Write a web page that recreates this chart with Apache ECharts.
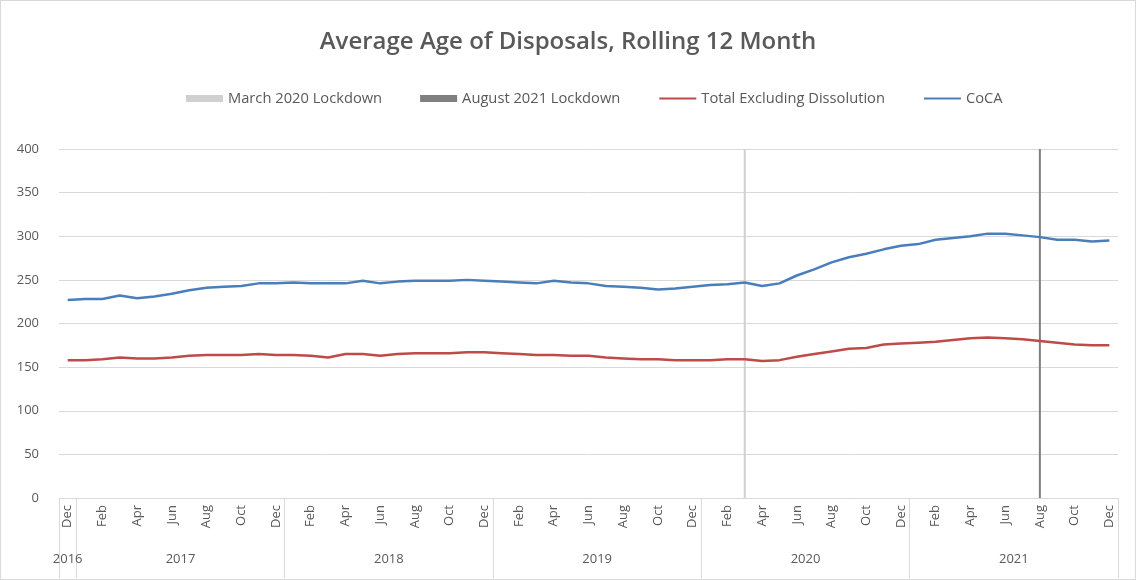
<!DOCTYPE html>
<html>
<head>
<meta charset="utf-8">
<script src="https://cdn.jsdelivr.net/npm/echarts@6/dist/echarts.min.js"></script>
<style>
  html, body { margin: 0; padding: 0; background: #fff; }
  #main { width: 1134px; height: 578px; border: 1px solid #d9d9d9; }
</style>
</head>
<body>
<div id="main"></div>
<script>
// months Dec 2016 .. Dec 2021
var months = ['Dec',
  'Jan','Feb','Mar','Apr','May','Jun','Jul','Aug','Sep','Oct','Nov','Dec',
  'Jan','Feb','Mar','Apr','May','Jun','Jul','Aug','Sep','Oct','Nov','Dec',
  'Jan','Feb','Mar','Apr','May','Jun','Jul','Aug','Sep','Oct','Nov','Dec',
  'Jan','Feb','Mar','Apr','May','Jun','Jul','Aug','Sep','Oct','Nov','Dec',
  'Jan','Feb','Mar','Apr','May','Jun','Jul','Aug','Sep','Oct','Nov','Dec'];

var years = ['2016', '2017', '2018', '2019', '2020', '2021'];
var yearCentres = [0, 6.5, 18.5, 30.5, 42.5, 54.5];

var totalExclDissolution = [
  158, 158, 159, 161, 160, 160, 161, 163, 164, 164, 164, 165, 164,
  164, 163, 161, 165, 165, 163, 165, 166, 166, 166, 167, 167,
  166, 165, 164, 164, 163, 163, 161, 160, 159, 159, 158, 158,
  158, 159, 159, 157, 158, 162, 165, 168, 171, 172, 176, 177,
  178, 179, 181, 183, 184, 183, 182, 180, 178, 176, 175, 175
];

var coca = [
  227, 228, 228, 232, 229, 231, 234, 238, 241, 242, 243, 246, 246,
  247, 246, 246, 246, 249, 246, 248, 249, 249, 249, 250, 249,
  248, 247, 246, 249, 247, 246, 243, 242, 241, 239, 240, 242,
  244, 245, 247, 243, 246, 255, 262, 270, 276, 280, 285, 289,
  291, 296, 298, 300, 303, 303, 301, 299, 296, 296, 294, 295
];

// lockdown markers (index 39 = Mar 2020, index 56 = Aug 2021)
var march2020 = months.map(function (m, i) { return i === 39 ? 400 : '-'; });
var august2021 = months.map(function (m, i) { return i === 56 ? 400 : '-'; });

var txt = '#595959';
var grid = '#d9d9d9';
var font = 'Open Sans';

var chart = echarts.init(document.getElementById('main'));

var option = {
  backgroundColor: '#fff',
  textStyle: { fontFamily: font },
  title: {
    text: 'Average Age of Disposals, Rolling 12 Month',
    left: 'center',
    top: 24,
    textStyle: { fontFamily: font, fontSize: 24, fontWeight: 600, color: txt }
  },
  legend: {
    top: 85,
    left: 180,
    itemWidth: 37,
    itemHeight: 7,
    itemGap: 38,
    textStyle: { fontFamily: font, fontSize: 14.7, color: txt },
    data: [
      { name: 'March 2020 Lockdown', icon: 'rect' },
      { name: 'August 2021 Lockdown', icon: 'rect' },
      { name: 'Total Excluding Dissolution', itemStyle: { opacity: 0 } },
      { name: 'CoCA', itemStyle: { opacity: 0 } }
    ]
  },
  grid: { left: 58, right: 17, top: 148, bottom: 81 },
  xAxis: [
    {
      type: 'category',
      data: months,
      boundaryGap: true,
      axisLine: { lineStyle: { color: grid } },
      axisTick: {
        show: true,
        length: 80,
        interval: function (idx) { return idx === 0 || (idx - 1) % 12 === 0; },
        lineStyle: { color: grid }
      },
      axisLabel: {
        interval: 1,
        rotate: 90,
        margin: 7,
        fontSize: 13,
        color: txt
      }
    },
    {
      type: 'value',
      position: 'bottom',
      min: -0.5,
      max: 60.5,
      interval: 0.5,
      axisLine: { show: false },
      axisTick: { show: false },
      splitLine: { show: false },
      axisLabel: {
        margin: 55,
        fontSize: 13,
        color: txt,
        showMinLabel: true,
        showMaxLabel: true,
        formatter: function (v) {
          var k = yearCentres.indexOf(v);
          return k >= 0 ? years[k] : '';
        }
      }
    }
  ],
  yAxis: {
    type: 'value',
    min: 0,
    max: 400,
    interval: 50,
    axisLine: { show: false },
    axisTick: { show: false },
    splitLine: { lineStyle: { color: grid } },
    axisLabel: { margin: 20, fontSize: 13, color: txt }
  },
  series: [
    {
      name: 'March 2020 Lockdown',
      type: 'bar',
      data: march2020,
      barWidth: 2,
      barGap: '-100%',
      itemStyle: { color: '#d0d0d0' }
    },
    {
      name: 'August 2021 Lockdown',
      type: 'bar',
      data: august2021,
      barWidth: 2,
      barGap: '-100%',
      itemStyle: { color: '#7f7f7f' }
    },
    {
      name: 'Total Excluding Dissolution',
      type: 'line',
      data: totalExclDissolution,
      symbol: 'none',
      lineStyle: { color: '#be4b48', width: 2.5 },
      itemStyle: { color: '#be4b48' }
    },
    {
      name: 'CoCA',
      type: 'line',
      data: coca,
      symbol: 'none',
      lineStyle: { color: '#4a7ebb', width: 2.5 },
      itemStyle: { color: '#4a7ebb' }
    }
  ]
};

chart.setOption(option);
</script>
</body>
</html>
